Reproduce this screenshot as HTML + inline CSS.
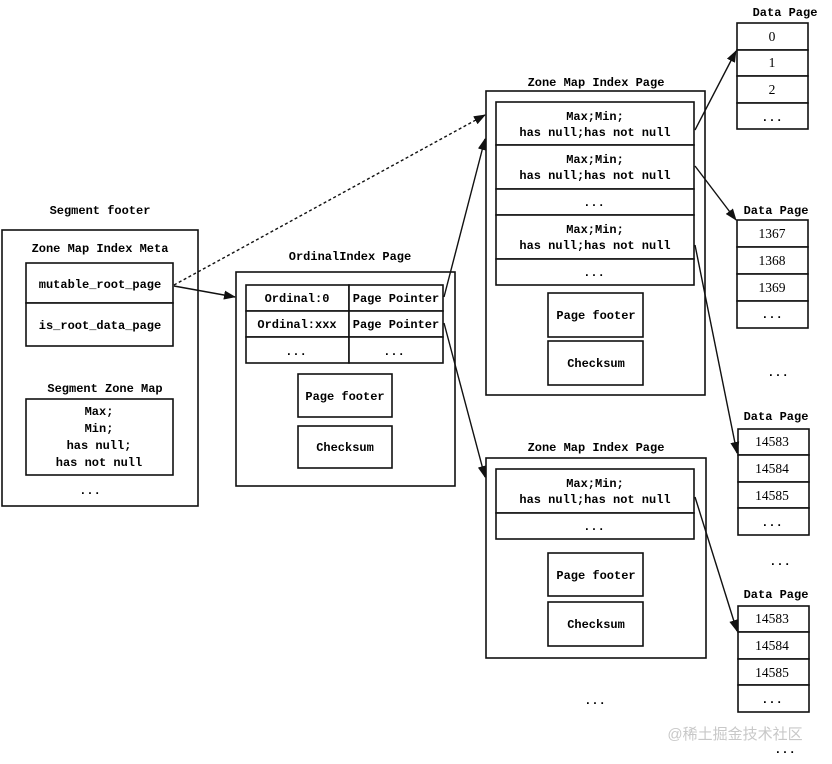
<!DOCTYPE html>
<html><head><meta charset="utf-8"><style>
html,body{margin:0;padding:0;background:#fff;}
svg{display:block;}
text{font-family:"Liberation Mono","Noto Serif CJK SC",monospace;font-size:12px;fill:#000;text-anchor:middle;font-weight:600;}
text.n{font-family:"Liberation Serif",serif;font-size:13.5px;font-weight:normal;}
rect{fill:#fff;stroke:#111;stroke-width:1.6;}
line{stroke:#111;stroke-width:1.4;}
</style></head><body>
<svg width="832" height="764" viewBox="0 0 832 764" xmlns="http://www.w3.org/2000/svg">
<defs><marker id="a" markerWidth="12" markerHeight="9" refX="11" refY="4.5" orient="auto" markerUnits="userSpaceOnUse"><path d="M0,0 L12,4.5 L0,9 z" fill="#111"/></marker></defs>

<text x="100" y="214">Segment footer</text>
<rect x="2" y="230" width="196" height="276"/>
<text x="100" y="252">Zone Map Index Meta</text>
<rect x="26" y="263" width="147" height="40"/>
<text x="100" y="288">mutable_root_page</text>
<rect x="26" y="303" width="147" height="43"/>
<text x="100" y="329">is_root_data_page</text>
<text x="105" y="392">Segment Zone Map</text>
<rect x="26" y="399" width="147" height="76"/>
<text x="99" y="415">Max;</text>
<text x="99" y="432">Min;</text>
<text x="99" y="449">has null;</text>
<text x="99" y="466">has not null</text>
<text x="90" y="494">...</text>

<text x="350" y="260">OrdinalIndex Page</text>
<rect x="236" y="272" width="219" height="214"/>
<rect x="246" y="285" width="103" height="26"/><rect x="349" y="285" width="94" height="26"/>
<rect x="246" y="311" width="103" height="26"/><rect x="349" y="311" width="94" height="26"/>
<rect x="246" y="337" width="103" height="26"/><rect x="349" y="337" width="94" height="26"/>
<text x="297" y="302">Ordinal:0</text><text x="396" y="302">Page Pointer</text>
<text x="297" y="328">Ordinal:xxx</text><text x="396" y="328">Page Pointer</text>
<text x="296" y="355">...</text><text x="394" y="355">...</text>
<rect x="298" y="374" width="94" height="43"/><text x="345" y="400">Page footer</text>
<rect x="298" y="426" width="94" height="42"/><text x="345" y="451">Checksum</text>

<text x="596" y="86">Zone Map Index Page</text>
<rect x="486" y="91" width="219" height="304"/>
<rect x="496" y="102" width="198" height="43"/><text x="595" y="120">Max;Min;</text><text x="595" y="136">has null;has not null</text>
<rect x="496" y="145" width="198" height="44"/><text x="595" y="163">Max;Min;</text><text x="595" y="179">has null;has not null</text>
<rect x="496" y="189" width="198" height="26"/><text x="594" y="206">...</text>
<rect x="496" y="215" width="198" height="44"/><text x="595" y="233">Max;Min;</text><text x="595" y="249">has null;has not null</text>
<rect x="496" y="259" width="198" height="26"/><text x="594" y="276">...</text>
<rect x="548" y="293" width="95" height="44"/><text x="596" y="319">Page footer</text>
<rect x="548" y="341" width="95" height="44"/><text x="596" y="367">Checksum</text>

<text x="596" y="451">Zone Map Index Page</text>
<rect x="486" y="458" width="220" height="200"/>
<rect x="496" y="469" width="198" height="44"/><text x="595" y="487">Max;Min;</text><text x="595" y="503">has null;has not null</text>
<rect x="496" y="513" width="198" height="26"/><text x="594" y="530">...</text>
<rect x="548" y="553" width="95" height="43"/><text x="596" y="579">Page footer</text>
<rect x="548" y="602" width="95" height="44"/><text x="596" y="628">Checksum</text>
<text x="595" y="704">...</text>

<text x="785" y="16">Data Page</text>
<rect x="737" y="23" width="71" height="27"/><text class="n" x="772" y="41">0</text>
<rect x="737" y="50" width="71" height="26"/><text class="n" x="772" y="67">1</text>
<rect x="737" y="76" width="71" height="27"/><text class="n" x="772" y="94">2</text>
<rect x="737" y="103" width="71" height="26"/><text x="772" y="121">...</text>

<text x="776" y="214">Data Page</text>
<rect x="737" y="220" width="71" height="27"/><text class="n" x="772" y="238">1367</text>
<rect x="737" y="247" width="71" height="27"/><text class="n" x="772" y="265">1368</text>
<rect x="737" y="274" width="71" height="27"/><text class="n" x="772" y="292">1369</text>
<rect x="737" y="301" width="71" height="27"/><text x="772" y="318">...</text>
<text x="778" y="376">...</text>

<text x="776" y="420">Data Page</text>
<rect x="738" y="429" width="71" height="26"/><text class="n" x="772" y="446">14583</text>
<rect x="738" y="455" width="71" height="27"/><text class="n" x="772" y="473">14584</text>
<rect x="738" y="482" width="71" height="26"/><text class="n" x="772" y="500">14585</text>
<rect x="738" y="508" width="71" height="27"/><text x="772" y="526">...</text>
<text x="780" y="565">...</text>

<text x="776" y="598">Data Page</text>
<rect x="738" y="606" width="71" height="26"/><text class="n" x="772" y="623">14583</text>
<rect x="738" y="632" width="71" height="27"/><text class="n" x="772" y="650">14584</text>
<rect x="738" y="659" width="71" height="26"/><text class="n" x="772" y="677">14585</text>
<rect x="738" y="685" width="71" height="27"/><text x="772" y="703">...</text>
<text x="785" y="753">...</text>

<line x1="174" y1="286" x2="235" y2="297" marker-end="url(#a)"/>
<line x1="174" y1="285" x2="485" y2="115" stroke-dasharray="3,2.5" marker-end="url(#a)"/>
<line x1="444" y1="297" x2="485" y2="139" marker-end="url(#a)"/>
<line x1="444" y1="323" x2="485" y2="477" marker-end="url(#a)"/>
<line x1="695" y1="130" x2="736" y2="51" marker-end="url(#a)"/>
<line x1="695" y1="166" x2="736" y2="220" marker-end="url(#a)"/>
<line x1="695" y1="245" x2="737" y2="453" marker-end="url(#a)"/>
<line x1="695" y1="497" x2="737" y2="631" marker-end="url(#a)"/>

<text x="735" y="739" style="font-family:'Liberation Sans','Noto Sans CJK SC',sans-serif;font-size:15px;fill:#c8c8c8;font-weight:normal;">@稀土掘金技术社区</text>
</svg>
</body></html>
